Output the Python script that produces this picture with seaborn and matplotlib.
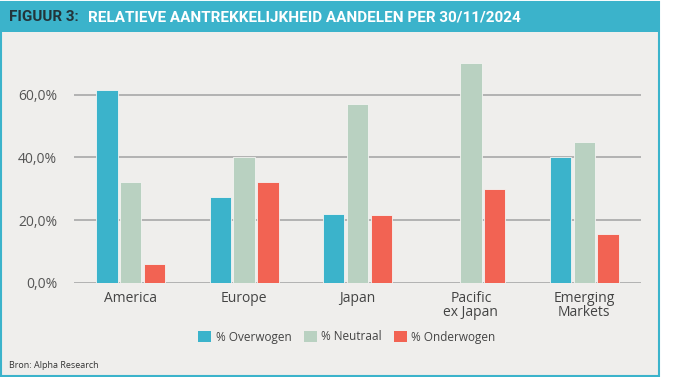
import matplotlib
matplotlib.use("Agg")
import matplotlib.pyplot as plt
import matplotlib.patches as mpatches
import seaborn as sns
import pandas as pd

categories = ["America", "Europe", "Japan", "Pacific\nex Japan", "Emerging\nMarkets"]
series = ["% Overwogen", "% Neutraal", "% Onderwogen"]
overwogen = [61.6, 27.4, 21.9, 0.0, 40.0]
neutraal = [32.1, 40.1, 57.0, 70.0, 44.8]
onderwogen = [6.0, 32.1, 21.6, 29.9, 15.4]
yticks = [0, 20, 40, 60]
ytick_labels = ["0,0%", "20,0%", "40,0%", "60,0%"]

colors = ["#3bb3cb", "#b9d1c1", "#f26353"]
bg = "#efeeec"
teal = "#3bb3cb"

rows = []
for s, vals in zip(series, [overwogen, neutraal, onderwogen]):
    for c, v in zip(categories, vals):
        rows.append({"cat": c, "serie": s, "val": v})
df = pd.DataFrame(rows)

sns.set_theme(style="white")
plt.rcParams["font.family"] = ["Open Sans", "DejaVu Sans"]

fig = plt.figure(figsize=(7.0, 3.77), dpi=100)
fig.patch.set_facecolor("white")

# card background and border
card = mpatches.Rectangle((1 / 700, 1 / 377), 658 / 700, 374 / 377, transform=fig.transFigure,
                          facecolor=bg, edgecolor=teal, linewidth=1.5, zorder=-5)
fig.patches.append(card)
bar = mpatches.Rectangle((1 / 700, 1 - 32 / 377), 658 / 700, 30 / 377, transform=fig.transFigure,
                         facecolor=teal, edgecolor="none", zorder=-4)
fig.patches.append(bar)

fig.text(9 / 700, 1 - 17 / 377, "FIGUUR 3:", color="#23343a", fontsize=11,
         fontweight="bold", family=["Roboto", "DejaVu Sans"], va="center", ha="left")
fig.text(88 / 700, 1 - 17 / 377, "RELATIEVE AANTREKKELIJKHEID AANDELEN PER 30/11/2024",
         color="white", fontsize=11, fontweight="bold", family=["Roboto", "DejaVu Sans"],
         va="center", ha="left")
fig.text(9 / 700, 1 - 366 / 377, "Bron: Alpha Research", color="#333333", fontsize=6.5,
         va="center", ha="left")

ax = fig.add_axes([74 / 700, 1 - 282.7 / 377, (641 - 74) / 700, (282.7 - 47.7) / 377])
ax.set_facecolor("none")
sns.barplot(data=df, x="cat", y="val", hue="serie", palette=colors, saturation=1,
            width=0.63, gap=0.1, edgecolor="#f4f4f2", linewidth=0.6, ax=ax,
            legend=False, zorder=3)
ax.set_xlim(-0.5, 4.5)
ax.set_ylim(0, 75)
ax.set_yticks(yticks)
ax.set_yticklabels(ytick_labels)
for y in yticks:
    ax.axhline(y, color="#b2b2b2", linewidth=1.4, zorder=1)
for s in ax.spines.values():
    s.set_visible(False)
ax.set_xlabel("")
ax.set_ylabel("")
ax.tick_params(axis="y", length=0, pad=12, labelsize=10, labelcolor="#555555")
ax.tick_params(axis="x", length=0, pad=6, labelsize=10, labelcolor="#444444")
for lbl in ax.get_xticklabels():
    lbl.set_linespacing(0.9)
    lbl.set_verticalalignment("top")

handles = [mpatches.Patch(facecolor=c, edgecolor="none") for c in colors]
fig.legend(handles, series, loc="center", bbox_to_anchor=(347 / 700, 1 - 337 / 377), ncol=3,
           frameon=False, fontsize=8.5, handlelength=1.1, handleheight=1.1, handletextpad=0.4,
           columnspacing=1.0, labelcolor="#444444")

fig.savefig("out.png", dpi=100, facecolor="white")
